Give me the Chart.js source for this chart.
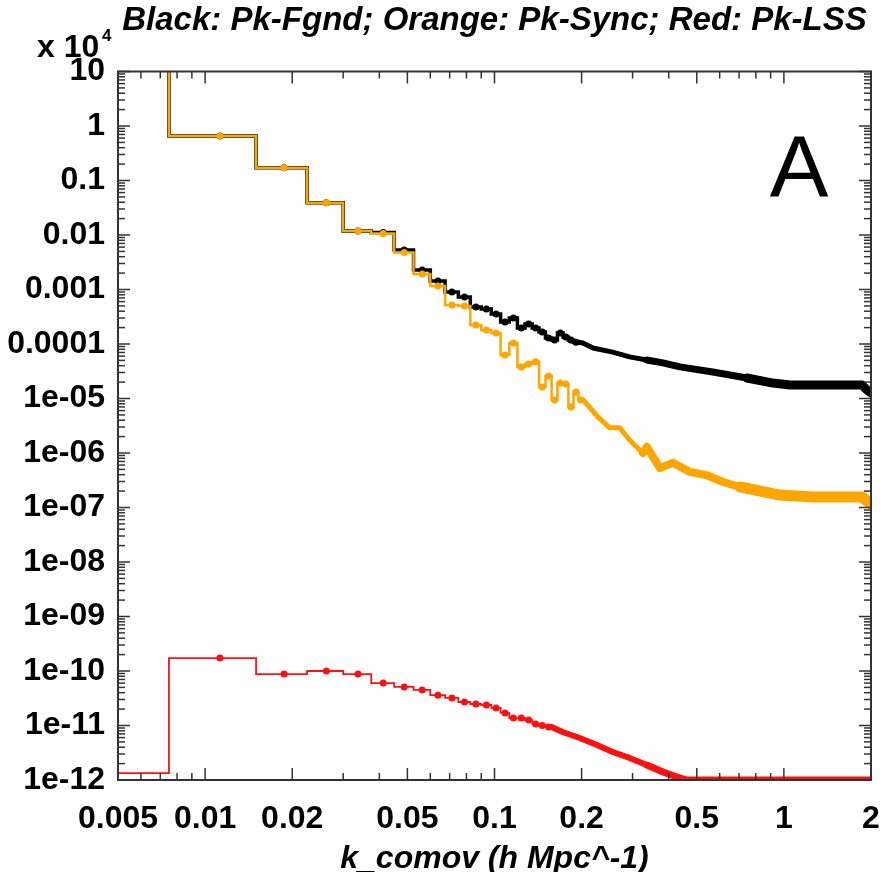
<!DOCTYPE html>
<html>
<head>
<meta charset="utf-8">
<script src="https://cdn.jsdelivr.net/npm/chart.js@4.4.1/dist/chart.umd.min.js"></script>
<style>
  html, body { margin: 0; padding: 0; background: #fff; }
  #wrap { width: 885px; height: 872px; }
</style>
</head>
<body>
<div id="wrap"><canvas id="pkChart" width="885" height="872"></canvas></div>
<script>
// k bins (h/Mpc): left edges of the linear bins, the first one is cut at the plot edge
const binEdges = [0.005, 0.0075, 0.015, 0.0225, 0.03, 0.0375, 0.045, 0.0525, 0.06, 0.0675,
    0.075, 0.0825, 0.09, 0.0975, 0.105, 0.1125, 0.12, 0.1275, 0.135, 0.1425,
    0.15, 0.1575, 0.165, 0.1725, 0.18, 0.1875, 0.195, 0.2025];

// Pk per bin (x 10^4)
const syncBins = [30, 0.655, 0.172, 0.0392, 0.0118, 0.0107, 0.00477, 0.00192, 0.00116, 0.00052,
    0.000498, 0.000223, 0.000181, 0.000159, 6.3e-5, 1.04e-4, 3.8e-5, 4.3e-5, 4.7e-5, 1.63e-5,
    2.59e-5, 9.4e-6, 1.92e-5, 1.85e-5, 7.0e-6, 1.32e-5, 9.4e-6];
const fgndBins = [30, 0.655, 0.172, 0.0392, 0.0118, 0.0111, 0.0053, 0.00228, 0.00143, 0.0009,
    0.00073, 0.000478, 0.000439, 0.000355, 0.000253, 0.0003, 0.000197, 0.000233, 0.000197, 0.000166,
    0.000129, 0.000118, 0.000159, 0.000135, 0.000118, 0.000108];
const lssBins = [1.34e-12, 1.73e-10, 8.8e-11, 1.0e-10, 8.8e-11, 6.0e-11, 5.1e-11, 4.5e-11, 3.6e-11, 3.2e-11,
    2.7e-11, 2.48e-11, 2.38e-11, 2.1e-11, 1.7e-11, 1.37e-11, 1.37e-11, 1.26e-11, 1.07e-11, 1.0e-11,
    9.4e-12];

// dense high-k part, read along the middle of each band
const syncTailK = [0.2275, 0.25, 0.271, 0.293, 0.3255, 0.336, 0.373, 0.413, 0.473, 0.542,
    0.616, 0.705, 0.969, 1.26, 1.56, 1.86, 1.92, 2.0];
const syncTail = [4.6e-6, 2.9e-6, 2.9e-6, 1.73e-6, 1.0e-6, 1.3e-6, 5.3e-7, 6.6e-7, 4.5e-7, 3.9e-7,
    2.94e-7, 2.38e-7, 1.69e-7, 1.56e-7, 1.56e-7, 1.56e-7, 1.37e-7, 1.16e-7];
const fgndTailK = [0.202, 0.219, 0.256, 0.293, 0.336, 0.382, 0.437, 0.568, 0.745, 0.917,
    1.05, 1.26, 1.56, 1.86, 1.92, 2.0];
const fgndTail = [1.04e-4, 8.45e-5, 7.1e-5, 5.8e-5, 5.1e-5, 4.5e-5, 3.8e-5, 3.06e-5, 2.38e-5, 1.92e-5,
    1.77e-5, 1.77e-5, 1.77e-5, 1.77e-5, 1.5e-5, 1.26e-5];
const lssTailK = [0.172, 0.197, 0.226, 0.256, 0.293, 0.336, 0.382, 0.437, 0.462, 2.0];
const lssTail = [7.6e-12, 5.9e-12, 4.4e-12, 3.27e-12, 2.54e-12, 1.88e-12, 1.4e-12, 1.09e-12, 1.0e-12, 1.0e-12];

const xTickValues = [0.005, 0.01, 0.02, 0.05, 0.1, 0.2, 0.5, 1, 2];
const xTickLabels = ['0.005', '0.01', '0.02', '0.05', '0.1', '0.2', '0.5', '1', '2'];
const yTickValues = [1e-12, 1e-11, 1e-10, 1e-9, 1e-8, 1e-7, 1e-6, 1e-5, 1e-4, 1e-3, 1e-2, 0.1, 1, 10];
const yTickLabels = ['1e-12', '1e-11', '1e-10', '1e-09', '1e-08', '1e-07', '1e-06', '1e-05',
    '0.0001', '0.001', '0.01', '0.1', '1', '10'];

const family = '"Liberation Sans", Arial, Helvetica, sans-serif';
const ORANGE = '#ffa500';

function stepPoints(edges, bins) {
    let pts = bins.map((v, i) => ({ x: edges[i], y: v }));
    pts.push({ x: edges[bins.length], y: bins[bins.length - 1] });
    return pts;
}

// marker in the middle of every bin that lies fully on the plot
function centrePoints(edges, bins) {
    return bins.slice(1).map((v, i) => ({ x: (edges[i + 1] + edges[i + 2]) / 2, y: v }));
}

function tailPoints(edges, bins, ks, vals) {
    let pts = [{ x: edges[bins.length], y: bins[bins.length - 1] }];
    ks.forEach((k, i) => pts.push({ x: k, y: vals[i] }));
    return pts;
}

// the band gets thicker where the bins pile up
function bandWidth(widths) {
    return c => {
        let k = c.p0.parsed.x;
        return k < 0.3 ? widths[0] : (k < 0.7 ? widths[1] : widths[2]);
    };
}

function series(bins, ks, vals, color, lineW, widths, order) {
    return [
        { type: 'scatter', data: centrePoints(binEdges, bins), backgroundColor: color,
          pointRadius: 3.5, pointBorderWidth: 0, order: order },
        { type: 'line', data: stepPoints(binEdges, bins), stepped: 'before', borderColor: color,
          borderWidth: lineW, pointRadius: 0, order: order + 1 },
        { type: 'line', data: tailPoints(binEdges, bins, ks, vals), borderColor: color,
          borderWidth: widths[2], segment: { borderWidth: bandWidth(widths) },
          borderJoinStyle: 'round', borderCapStyle: 'round',
          pointRadius: 0, order: order + 1 }
    ];
}

const frameTicks = {
    id: 'frameTicks',
    afterDraw(chart) {
        let { ctx, chartArea: a, scales: { x, y } } = chart;
        ctx.save();
        ctx.strokeStyle = '#333';
        ctx.lineWidth = 1.5;
        let seg = (x0, y0, x1, y1) => {
            ctx.beginPath(); ctx.moveTo(x0, y0); ctx.lineTo(x1, y1); ctx.stroke();
        };
        for (let e = -3; e <= 0; e++) {
            for (let m = 1; m <= 9; m++) {
                let v = m * Math.pow(10, e);
                if (v < x.min * 0.999 || v > x.max * 1.001) continue;
                let major = xTickValues.some(t => Math.abs(t / v - 1) < 1e-6);
                let len = major ? 12 : 7;
                let px = x.getPixelForValue(v);
                seg(px, a.bottom, px, a.bottom - len);
                seg(px, a.top, px, a.top + len);
            }
        }
        for (let e = -12; e <= 1; e++) {
            for (let m = 1; m <= 9; m++) {
                let v = m * Math.pow(10, e);
                if (v > y.max * 1.001) continue;
                let len = m === 1 ? 12 : 7;
                let py = y.getPixelForValue(v);
                seg(a.left, py, a.left + len, py);
                seg(a.right, py, a.right - len, py);
            }
        }
        ctx.lineWidth = 2;
        ctx.strokeRect(a.left, a.top, a.right - a.left, a.bottom - a.top);

        ctx.fillStyle = '#000';
        ctx.textBaseline = 'alphabetic';
        ctx.textAlign = 'left';
        ctx.font = 'bold 32px ' + family;
        ctx.fillText('x 10', 37, 57);
        ctx.font = 'bold 17px ' + family;
        ctx.fillText('4', 102, 41);
        ctx.textAlign = 'center';
        ctx.font = '88px ' + family;
        ctx.fillText('A', 799, 197);
        ctx.restore();
    }
};

let pkChart = new Chart(document.getElementById('pkChart'), {
    data: {
        datasets: [
            ...series(syncBins, syncTailK, syncTail, ORANGE, 2.5, [5, 8, 11], 0),
            ...series(fgndBins, fgndTailK, fgndTail, '#000', 3.5, [5, 7, 9], 2),
            ...series(lssBins, lssTailK, lssTail, '#ff1010', 1.8, [6, 7, 7], 4)
        ]
    },
    options: {
        responsive: false,
        animation: false,
        layout: { padding: { top: 0, right: 14, bottom: 0, left: 0 } },
        plugins: {
            legend: { display: false },
            tooltip: { enabled: false },
            title: {
                display: true,
                text: 'Black: Pk-Fgnd; Orange: Pk-Sync; Red: Pk-LSS',
                fullSize: false,
                color: '#000',
                font: { family: family, size: 33, weight: 'bold', style: 'italic', lineHeight: 1 },
                padding: { top: 4, bottom: 34.5 }
            }
        },
        scales: {
            x: {
                type: 'logarithmic',
                min: 0.005,
                max: 2,
                afterBuildTicks: s => { s.ticks = xTickValues.map(v => ({ value: v })); },
                afterFit: s => { s.height = 92; },
                grid: { display: true, drawOnChartArea: false, drawTicks: true, tickLength: 18,
                        tickColor: 'rgba(0,0,0,0)' },
                border: { display: false },
                ticks: {
                    autoSkip: false, maxRotation: 0, padding: 2, color: '#000',
                    font: { family: family, size: 32, weight: 'bold' },
                    callback: (v, i) => xTickLabels[i]
                },
                title: {
                    display: true, text: 'k_comov (h Mpc^-1)', color: '#000',
                    font: { family: family, size: 32, weight: 'bold', style: 'italic', lineHeight: 1 },
                    padding: { top: 0, bottom: -3 }
                }
            },
            y: {
                type: 'logarithmic',
                min: 1e-12,
                max: 10,
                afterBuildTicks: s => { s.ticks = yTickValues.map(v => ({ value: v })); },
                afterFit: s => { s.width = 118; },
                grid: { display: false, drawTicks: false },
                border: { display: false },
                ticks: {
                    autoSkip: false, padding: 13, color: '#000',
                    font: { family: family, size: 32, weight: 'bold' },
                    callback: (v, i) => yTickLabels[i]
                }
            }
        }
    },
    plugins: [frameTicks]
});
</script>
</body>
</html>
